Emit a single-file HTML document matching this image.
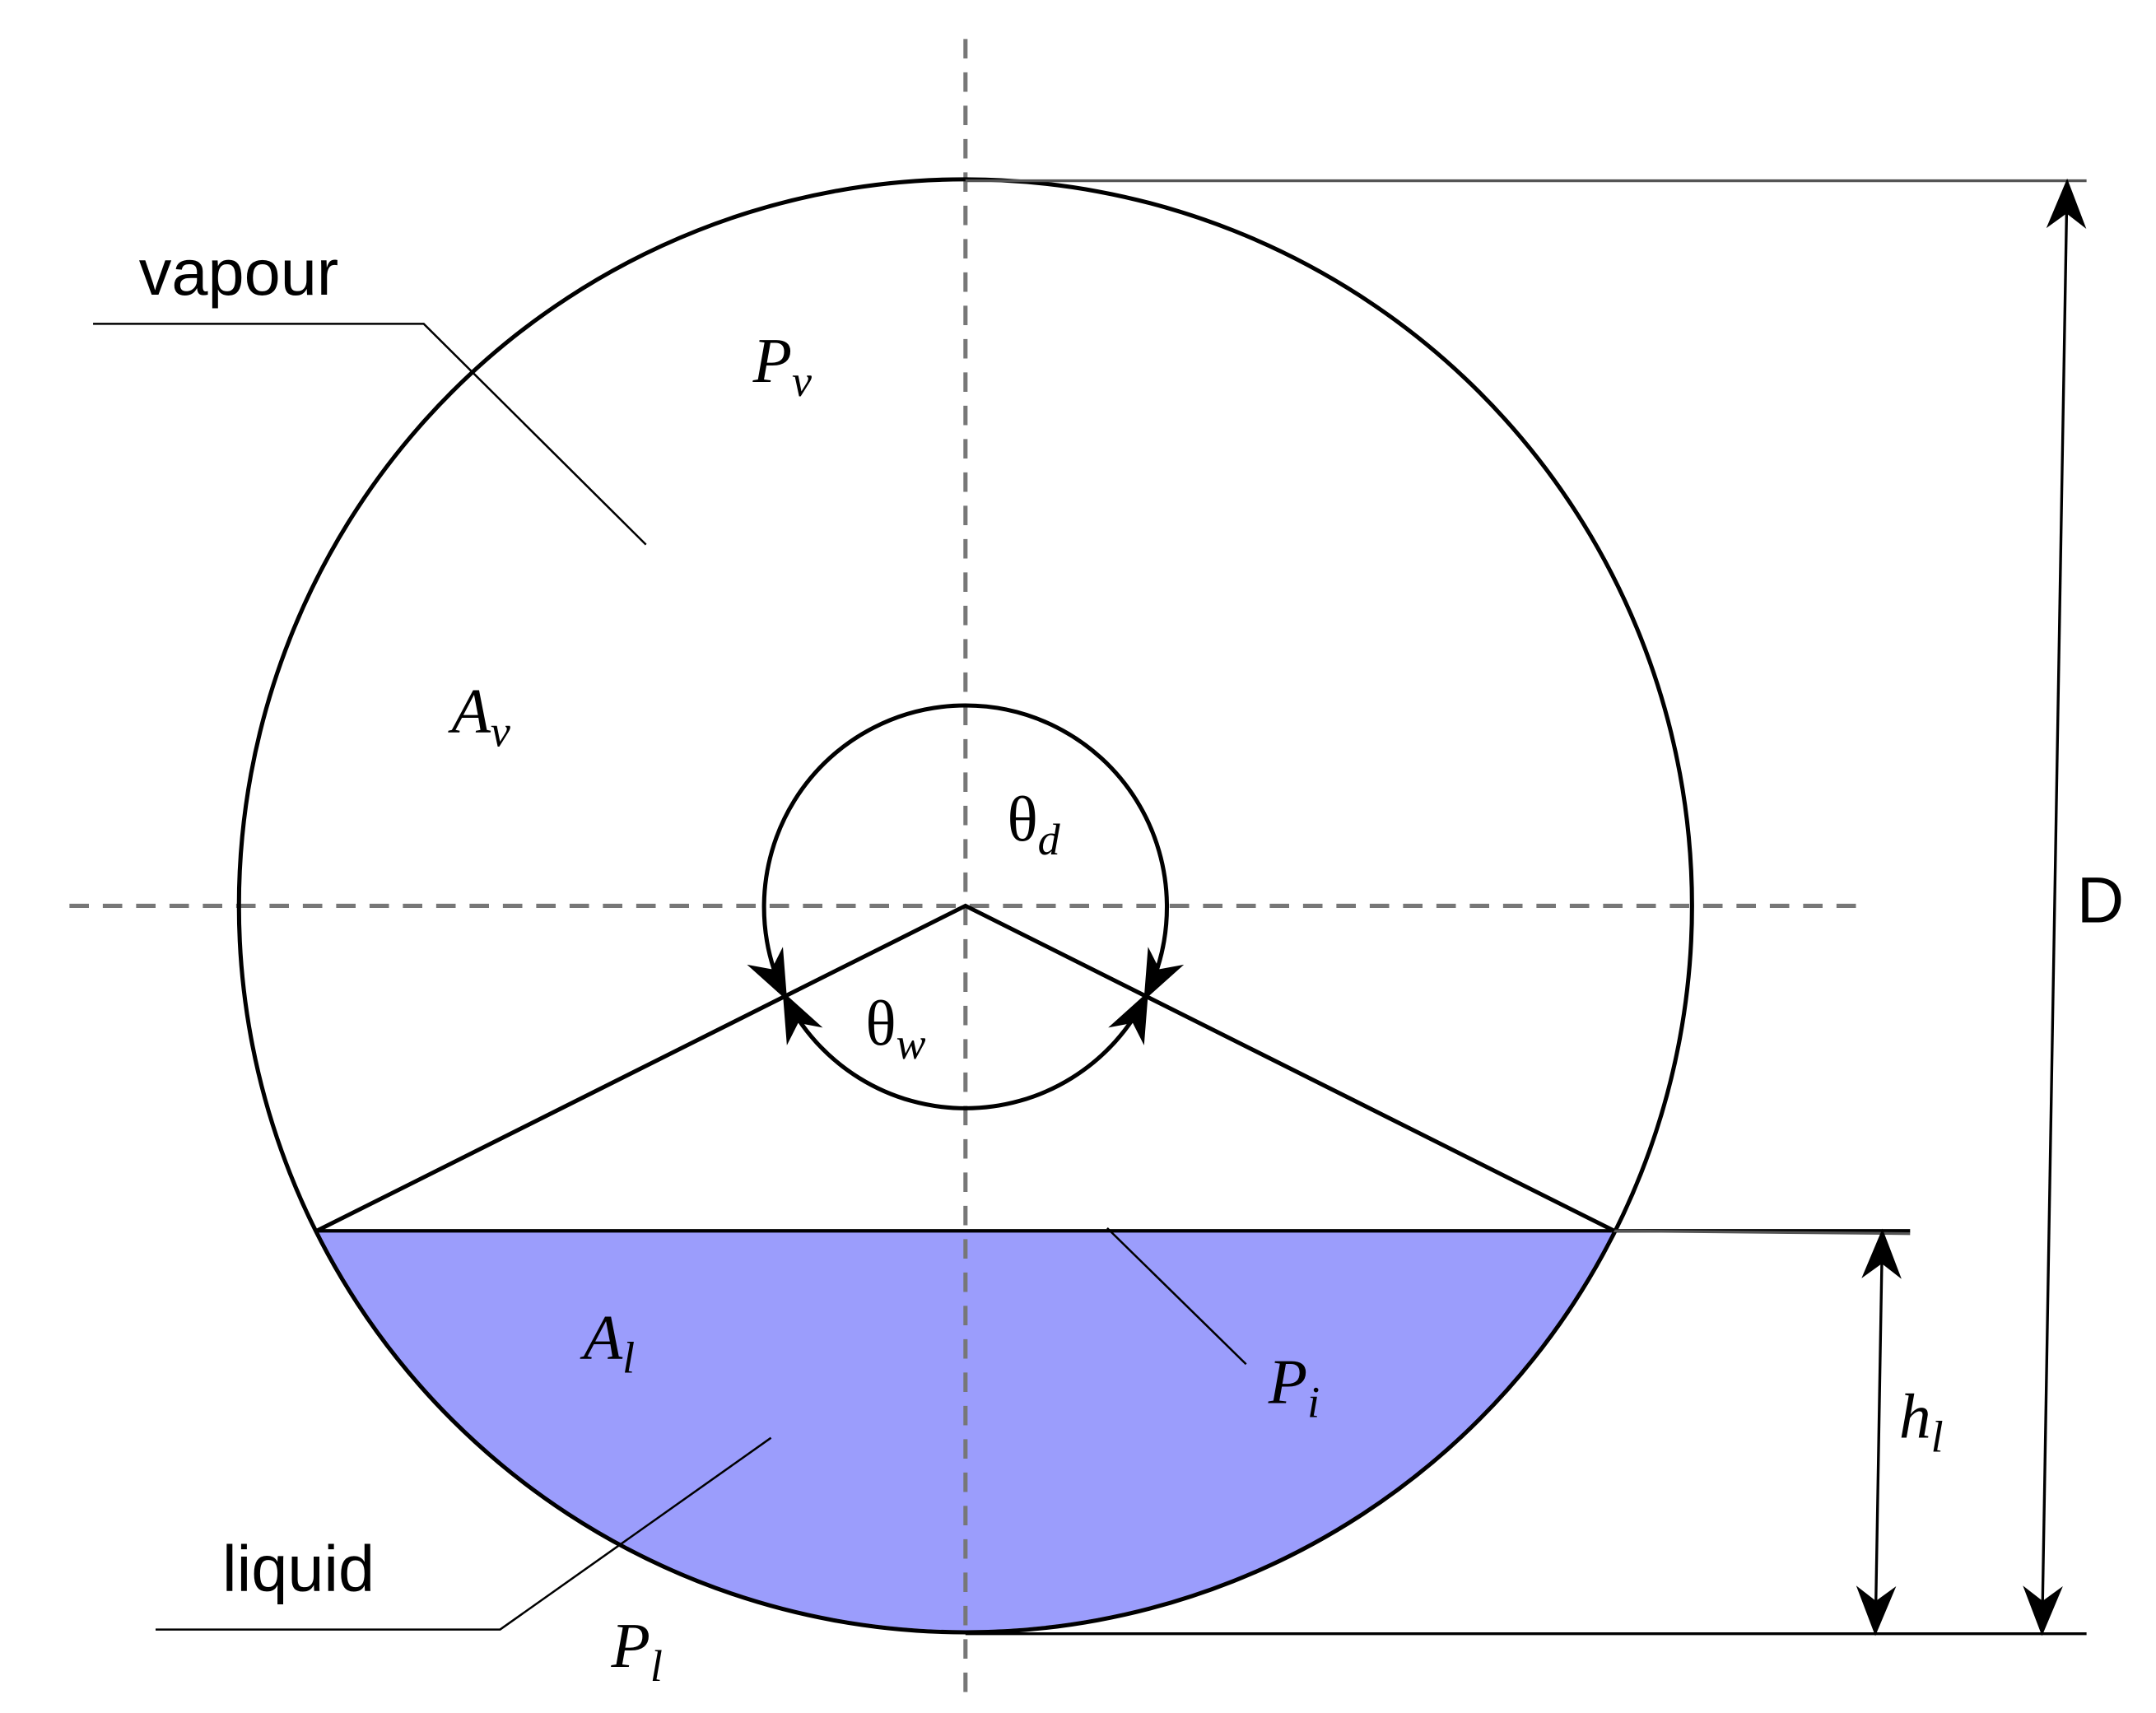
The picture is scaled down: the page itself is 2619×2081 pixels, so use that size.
<!DOCTYPE html>
<html><head><meta charset="utf-8"><style>
html,body{margin:0;padding:0;background:#fff;}
svg{display:block;}
.lab{font-family:"Liberation Serif",serif;font-style:italic;font-size:46px;fill:#000;}
.sub{font-size:32px;}
.txt{font-family:"Liberation Sans",sans-serif;font-size:47px;fill:#000;}
</style></head><body>
<svg width="2619" height="2081" viewBox="0 0 1552 1233" xmlns="http://www.w3.org/2000/svg">
<defs>
<marker id="ab" viewBox="0 0 10 10" refX="9" refY="5" markerWidth="36" markerHeight="36" orient="auto-start-reverse" markerUnits="userSpaceOnUse">
<path d="M0,1 L10,5 L0,9 L3,5 Z" fill="#000"/>
</marker>
</defs>
<path d="M228,886 L1162,886 A523,523 0 0 1 228,886 Z" fill="#9b9dfc"/>
<line x1="695" y1="28" x2="695" y2="1224" stroke="#777" stroke-width="3" stroke-dasharray="14,10"/>
<line x1="50" y1="652" x2="1345" y2="652" stroke="#777" stroke-width="3" stroke-dasharray="14,10"/>
<circle cx="695" cy="652" r="523" fill="none" stroke="#000" stroke-width="3"/>
<line x1="228" y1="886" x2="1375" y2="886" stroke="#000" stroke-width="2.5"/>
<line x1="1160" y1="886" x2="1375" y2="888" stroke="#555" stroke-width="2"/>
<polyline points="228,886 695,652 1162,886" fill="none" stroke="#000" stroke-width="3"/>
<path d="M565,717 A145,145 0 1 1 825,717" fill="none" stroke="#000" stroke-width="3" marker-start="url(#ab)" marker-end="url(#ab)"/>
<path d="M565,717 A145,145 0 0 0 825,717" fill="none" stroke="#000" stroke-width="3" marker-start="url(#ab)" marker-end="url(#ab)"/>
<line x1="695" y1="130" x2="1502" y2="130" stroke="#555" stroke-width="2"/>
<line x1="695" y1="1176" x2="1502" y2="1176" stroke="#000" stroke-width="2"/>
<line x1="1488" y1="132" x2="1470" y2="1174" stroke="#000" stroke-width="2" marker-start="url(#ab)" marker-end="url(#ab)"/>
<line x1="1355" y1="888" x2="1350" y2="1174" stroke="#000" stroke-width="2" marker-start="url(#ab)" marker-end="url(#ab)"/>
<polyline points="67,233 305,233 465,392" fill="none" stroke="#000" stroke-width="1.5"/>
<polyline points="112,1173 360,1173 555,1035" fill="none" stroke="#000" stroke-width="1.5"/>
<line x1="797" y1="884" x2="897" y2="982" stroke="#000" stroke-width="1.5"/>
<text class="txt" x="100" y="212">vapour</text>
<text class="txt" x="160" y="1145">liquid</text>
<text class="txt" x="1495" y="664">D</text>
<text class="lab" x="542" y="275">P<tspan class="sub" dy="10">v</tspan></text>
<text class="lab" x="325" y="527">A<tspan class="sub" dy="10">v</tspan></text>
<text class="lab" x="725" y="605" style="font-style:normal">θ<tspan class="sub" dy="10" style="font-style:italic">d</tspan></text>
<text class="lab" x="623" y="752" style="font-style:normal">θ<tspan class="sub" dy="10" style="font-style:italic">w</tspan></text>
<text class="lab" x="420" y="978">A<tspan class="sub" dy="10">l</tspan></text>
<text class="lab" x="913" y="1010">P<tspan class="sub" dy="10">i</tspan></text>
<text class="lab" x="440" y="1200">P<tspan class="sub" dy="10">l</tspan></text>
<text class="lab" x="1367" y="1035">h<tspan class="sub" dy="10">l</tspan></text>
</svg>
</body></html>
